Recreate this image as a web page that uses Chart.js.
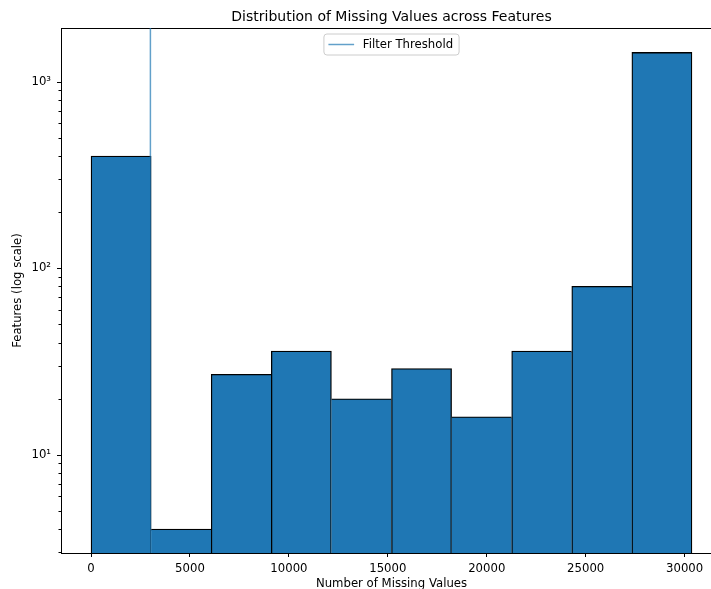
<!DOCTYPE html>
<html>
<head>
<meta charset="utf-8">
<script src="https://cdn.jsdelivr.net/npm/chart.js"></script>
<style>
  html, body { margin: 0; padding: 0; overflow: hidden; background: #fff; }
  canvas { display: block; }
</style>
</head>
<body>
<canvas id="chart" width="740" height="600"></canvas>
<script>
// histogram of missing values per feature (10 bins)
const binEdges = [0, 3037, 6074, 9111, 12148, 15185, 18222, 21259, 24296, 27333, 30370];
const featureCounts = [400, 4, 27, 36, 20, 29, 16, 36, 80, 1435];
const filterThreshold = 3000;

const xTicks = [0, 5000, 10000, 15000, 20000, 25000, 30000];
const yMajorTicks = [10, 100, 1000];
const yMajorLabels = ["10¹", "10²", "10³"];
const yMinorTicks = [3, 4, 5, 6, 7, 8, 9, 20, 30, 40, 50, 60, 70, 80, 90, 200, 300, 400, 500, 600, 700, 800, 900];

// axis limits (matplotlib autoscale with 5% margin on x)
const xMin = -1518.5, xMax = 31888.5;
const yMin = 2.98, yMax = 1940;

const barColor = "#1f77b4";
const lineColor = "rgba(31, 119, 180, 0.7)";
const fontSize = 11.7;

Chart.defaults.font.family = "'DejaVu Sans', sans-serif";
Chart.defaults.font.size = fontSize;
Chart.defaults.color = "#000";

const histData = featureCounts.map((c, i) => ({ x: (binEdges[i] + binEdges[i + 1]) / 2, y: c }));
const thresholdData = [{ x: filterThreshold, y: yMin }, { x: filterThreshold, y: yMax }];

// each shared edge is drawn once, by the taller neighbour
const edge = 1.3;
const edgeWidth = (ctx) => {
  const i = ctx.dataIndex, n = featureCounts.length;
  return {
    top: edge,
    bottom: 0,
    left: (i === 0 || featureCounts[i] >= featureCounts[i - 1]) ? edge : 0,
    right: (i === n - 1 || featureCounts[i] > featureCounts[i + 1]) ? edge : 0,
  };
};

// y tick marks: long for decades, short for minor ticks
const yTickMarks = {
  id: "yTickMarks",
  afterDraw(chart) {
    const y = chart.scales.y;
    const ctx = chart.ctx;
    ctx.save();
    ctx.strokeStyle = "#000";
    ctx.lineWidth = 1;
    y.ticks.forEach((t) => {
      const len = yMajorTicks.includes(t.value) ? 4 : 2.5;
      const py = Math.round(y.getPixelForValue(t.value)) + 0.5;
      ctx.beginPath();
      ctx.moveTo(y.right - len, py);
      ctx.lineTo(y.right, py);
      ctx.stroke();
    });
    ctx.restore();
  },
};

// matplotlib-like framed legend, upper center of the axes
const boxLegend = {
  id: "boxLegend",
  afterDraw(chart) {
    const ds = chart.data.datasets[0];
    const area = chart.chartArea;
    const ctx = chart.ctx;
    ctx.save();
    ctx.font = fontSize + "px 'DejaVu Sans', sans-serif";
    const textW = ctx.measureText(ds.label).width;
    const w = 4.5 + 25.7 + 8.7 + textW + 6;
    const h = 21;
    const left = (area.left + area.right) / 2 - w / 2;
    const top = area.top + 6;
    ctx.beginPath();
    ctx.roundRect(left, top, w, h, 3);
    ctx.fillStyle = "rgba(255,255,255,0.8)";
    ctx.fill();
    ctx.strokeStyle = "#cccccc";
    ctx.lineWidth = 1;
    ctx.stroke();
    const cy = top + h / 2;
    ctx.beginPath();
    ctx.moveTo(left + 4.5, cy);
    ctx.lineTo(left + 4.5 + 25.7, cy);
    ctx.strokeStyle = ds.borderColor;
    ctx.lineWidth = 1.5;
    ctx.stroke();
    ctx.fillStyle = "#000";
    ctx.textBaseline = "middle";
    ctx.fillText(ds.label, left + 4.5 + 25.7 + 8.7, cy);
    ctx.restore();
  },
};

new Chart(document.getElementById("chart"), {
  type: "bar",
  data: {
    datasets: [
      {
        type: "line",
        label: "Filter Threshold",
        data: thresholdData,
        borderColor: lineColor,
        borderWidth: 1.5,
        pointRadius: 0,
        fill: false,
      },
      {
        type: "bar",
        label: "Features",
        data: histData,
        backgroundColor: barColor,
        borderColor: "#000",
        borderWidth: edgeWidth,
        borderSkipped: false,
        barPercentage: 1,
        categoryPercentage: 1,
      },
    ],
  },
  options: {
    responsive: false,
    animation: false,
    devicePixelRatio: 1,
    layout: { padding: { left: 0, right: 18, top: 0, bottom: 0 } },
    plugins: {
      legend: { display: false },
      tooltip: { enabled: false },
      title: { display: false },
    },
    scales: {
      x: {
        type: "linear",
        position: "bottom",
        min: xMin,
        max: xMax,
        offset: false,
        grid: { display: true, offset: false, drawOnChartArea: false, drawTicks: true, tickLength: 4, color: "#000" },
        border: { display: true, color: "#000", width: 1 },
        ticks: { autoSkip: false, maxRotation: 0, padding: 5, callback: (v) => String(v) },
        afterBuildTicks: (s) => { s.ticks = xTicks.map((v) => ({ value: v })); },
        title: { display: true, text: "Number of Missing Values", padding: { top: 0, bottom: 9 } },
        afterFit: (s) => { s.height = 47; },
      },
      x2: {
        type: "linear",
        position: "top",
        min: xMin,
        max: xMax,
        offset: false,
        grid: { display: false, drawTicks: false },
        border: { display: true, color: "#000", width: 1 },
        ticks: { display: false },
        title: {
          display: true,
          text: "Distribution of Missing Values across Features",
          font: { size: 14 },
          padding: { top: 8.6, bottom: 0 },
        },
        afterFit: (s) => { s.height = 28; },
      },
      y: {
        type: "logarithmic",
        min: yMin,
        max: yMax,
        beginAtZero: false,
        grid: { display: false, drawTicks: true, tickLength: 4 },
        border: { display: true, color: "#000", width: 1 },
        ticks: {
          autoSkip: false,
          padding: 6,
          callback: (v) => {
            const k = yMajorTicks.indexOf(v);
            return k >= 0 ? yMajorLabels[k] : "";
          },
        },
        afterBuildTicks: (s) => {
          s.ticks = yMinorTicks.concat(yMajorTicks).sort((a, b) => a - b).map((v) => ({ value: v }));
        },
        title: { display: true, text: "Features (log scale)", padding: { top: 11.3, bottom: 0 } },
        afterFit: (s) => { s.width = 61; },
      },
    },
  },
  plugins: [yTickMarks, boxLegend],
});
</script>
</body>
</html>
